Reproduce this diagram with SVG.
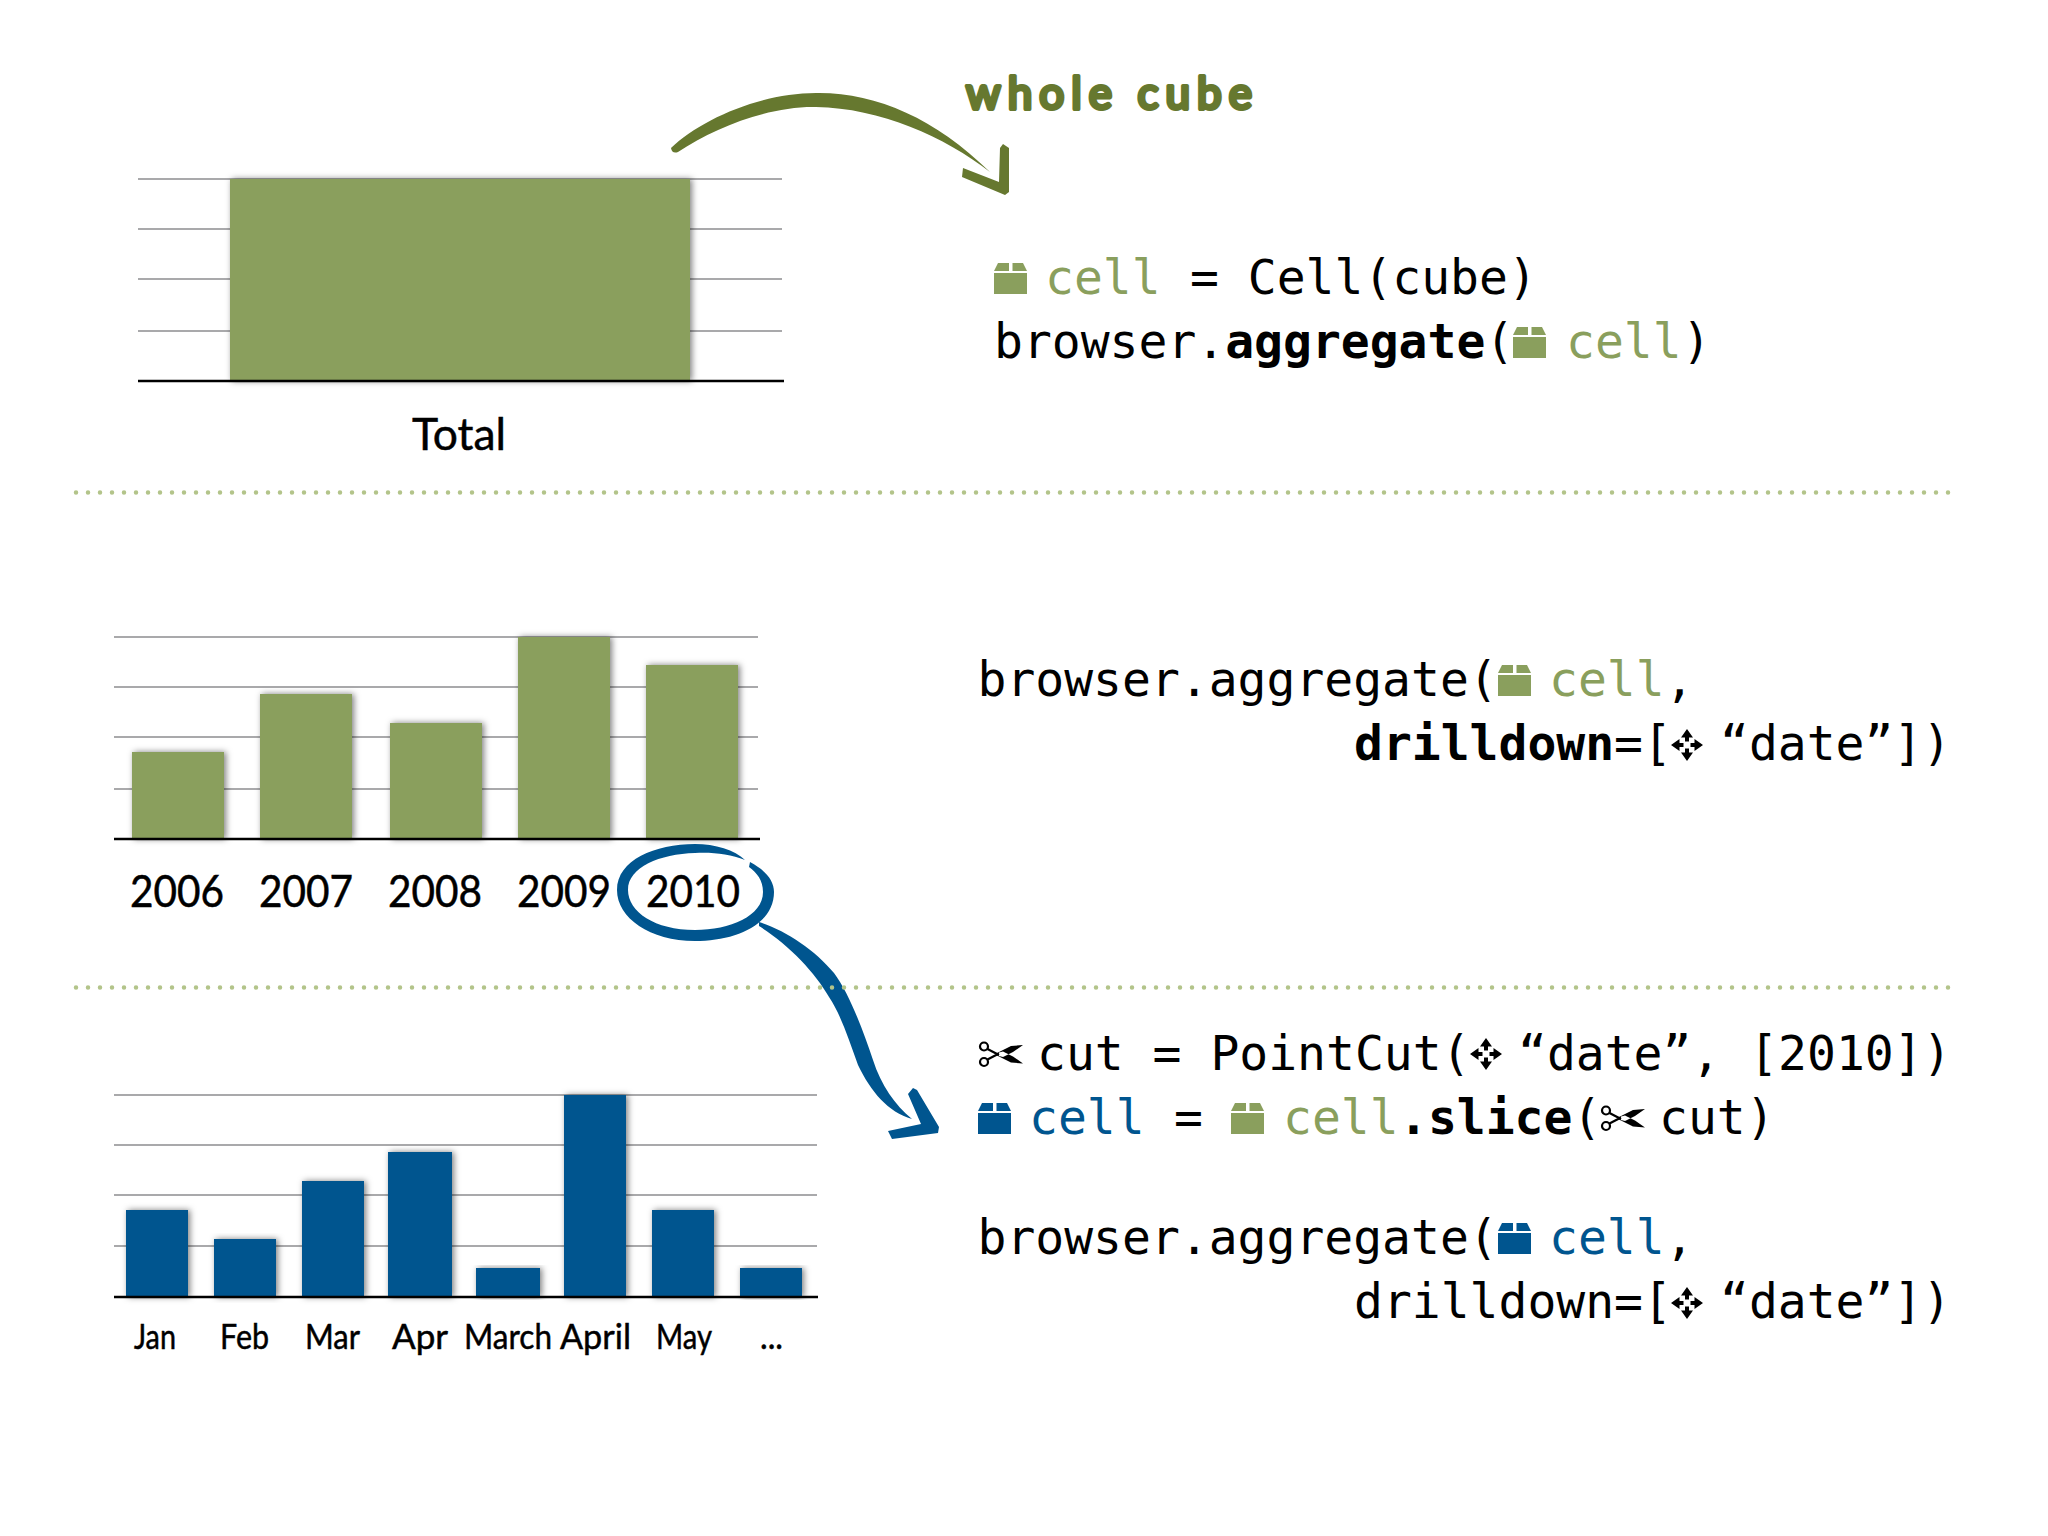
<svg xmlns="http://www.w3.org/2000/svg" width="2048" height="1536" viewBox="0 0 2048 1536">
<style>
.grid{stroke:#a9a9ab;stroke-width:2}
.base{stroke:#000;stroke-width:2.5}
.dots{stroke:#b3c48a;stroke-width:4.500;stroke-linecap:round;stroke-dasharray:0 12;fill:none}
.code{font-family:"DejaVu Sans Mono",monospace;font-size:48px;fill:#000}
.b{font-weight:700}
.g{fill:#8a9f5d}
.bl{fill:#00558f}
.lab{font-family:"Lato",sans-serif;fill:#000;stroke:#000;stroke-width:.5}
.big{font-size:44px}
.sm{font-size:35px}
.gb{fill:#8a9f5d;filter:url(#sh)}
.bb{fill:#00558f;filter:url(#sh)}
</style>
<defs>
<filter id="sh" x="-20%" y="-10%" width="140%" height="120%"><feDropShadow dx="2" dy="0" stdDeviation="3" flood-color="#000" flood-opacity=".5"/></filter>
<symbol id="box" viewBox="0 0 33 31" overflow="visible"><path d="M4 0H15V8H0ZM18.500 0H29L33 8H18.500ZM0 10H33V31H0Z"/></symbol>
<symbol id="move" viewBox="0 0 32 32" overflow="visible"><path d="M16 0L22 8.500H18V12.500H14V8.500H10ZM16 32L22 23.500H18V19.500H14V23.500H10ZM0 16L8.500 10V14H12.500V18H8.500V22ZM32 16L23.500 10V14H19.500V18H23.500V22Z" fill="#000"/></symbol>
<symbol id="cut" viewBox="0 0 46 26" overflow="visible"><g fill="none" stroke="#000" stroke-width="2.200"><circle cx="5" cy="5.500" r="4"/><circle cx="5" cy="21" r="4"/><path d="M8.500 8L20 14M8.500 18.500L20 12.500"/></g><path d="M18 12L32 5L44 4L34 11L24 16L20 15ZM18 14.500L32 21.500L44 22.500L34 15.500L24 10.500L20 11.500Z" fill="#000"/></symbol>
</defs>
<rect width="2048" height="1536" fill="#fff"/>

<g id="chart-total">
<path class="grid" d="M138 179H782M138 229H782M138 279H782M138 331H782"/>
<rect class="gb" x="230" y="179" width="460" height="202"/>
<path class="base" d="M138 381H784"/>
<text class="lab big" x="412" y="450" textLength="94" lengthAdjust="spacingAndGlyphs">Total</text>
</g>

<g id="chart-years">
<path class="grid" d="M114 637H758M114 687H758M114 737H758M114 789H758"/>
<rect class="gb" x="132" y="752" width="92" height="87"/>
<rect class="gb" x="260" y="694" width="92" height="145"/>
<rect class="gb" x="390" y="723" width="92" height="116"/>
<rect class="gb" x="518" y="637" width="92" height="202"/>
<rect class="gb" x="646" y="665" width="92" height="174"/>
<path class="base" d="M114 839H760"/>
<g class="lab big">
<text x="130" y="907" textLength="94" lengthAdjust="spacingAndGlyphs">2006</text>
<text x="259" y="907" textLength="94" lengthAdjust="spacingAndGlyphs">2007</text>
<text x="388" y="907" textLength="94" lengthAdjust="spacingAndGlyphs">2008</text>
<text x="517" y="907" textLength="94" lengthAdjust="spacingAndGlyphs">2009</text>
<text x="646" y="907" textLength="94" lengthAdjust="spacingAndGlyphs">2010</text>
</g>
</g>

<g id="chart-months">
<path class="grid" d="M114 1095H817M114 1145H817M114 1195H817M114 1246H817"/>
<rect class="bb" x="126" y="1210" width="62" height="87"/>
<rect class="bb" x="214" y="1239" width="62" height="58"/>
<rect class="bb" x="302" y="1181" width="62" height="116"/>
<rect class="bb" x="388" y="1152" width="64" height="145"/>
<rect class="bb" x="476" y="1268" width="64" height="29"/>
<rect class="bb" x="564" y="1095" width="62" height="202"/>
<rect class="bb" x="652" y="1210" width="62" height="87"/>
<rect class="bb" x="740" y="1268" width="62" height="29"/>
<path class="base" d="M114 1297H818"/>
<g class="lab sm">
<text x="134" y="1349" textLength="42" lengthAdjust="spacingAndGlyphs">Jan</text>
<text x="220" y="1349" textLength="49" lengthAdjust="spacingAndGlyphs">Feb</text>
<text x="305" y="1349" textLength="55" lengthAdjust="spacingAndGlyphs">Mar</text>
<text x="392" y="1349" textLength="56" lengthAdjust="spacingAndGlyphs">Apr</text>
<text x="464" y="1349" textLength="88" lengthAdjust="spacingAndGlyphs">March</text>
<text x="560" y="1349" textLength="71" lengthAdjust="spacingAndGlyphs">April</text>
<text x="656" y="1349" textLength="56" lengthAdjust="spacingAndGlyphs">May</text>
<text x="760" y="1349" textLength="23" lengthAdjust="spacingAndGlyphs">...</text>
</g>
</g>

<g id="connectors">
<g fill="#66782f">
<path d="M671 148C700 120 760 93 816 93C875 92 935 118 990 172C945 137 880 108 816 107C770 106 715 127 678 152Q672 154 671 148Z"/>
<path d="M1000 148L1003 144L1009 148L1009 192L1005 195L962 177L963 168L999 182Z"/>
</g>
<g fill="#00558f">
<path d="M759 922C785 930 815 950 834 973C849 993 863 1030 873 1060C881 1085 895 1105 912 1119C888 1112 871 1092 858 1065C849 1040 841 1015 829 997C815 972 788 944 759 926Z"/>
<path d="M908 1094L913 1088L917 1090L939 1127L938 1133L892 1139L888 1131L921 1124Z"/>
</g>
</g>
<g id="circle-2010">
<path fill="#00558f" d="M750 862C765 870 774 880 774 892C774 925 735 941 695 941C650 941 617 918 617 890C617 860 655 844 695 844C715 844 735 850 745 860C730 854 712 852 695 853C660 854 628 867 628 890C628 912 655 930 695 930C730 930 763 916 763 892C763 880 757 873 749 867Z"/>
</g>

<path class="dots" d="M76 492.500H1952"/>
<path class="dots" d="M76 987.500H1952"/>

<g id="annotation">
<text x="966" y="109" font-family="Lato,sans-serif" font-size="44" fill="#66782f" stroke="#66782f" stroke-width="4" stroke-linejoin="round" textLength="286" lengthAdjust="spacing">whole cube</text>
</g>

<g id="code-total">
<use href="#box" class="g" x="994" y="263" width="33" height="31"/>
<text class="code g" x="1045" y="294">cell</text>
<text class="code" x="1190" y="294">= Cell(cube)</text>
<text class="code" x="994" y="358">browser.<tspan class="b">aggregate</tspan>(</text>
<use href="#box" class="g" x="1513" y="327" width="33" height="31"/>
<text class="code g" x="1566" y="358">cell</text>
<text class="code" x="1682" y="358">)</text>
</g>

<g id="code-drilldown">
<text class="code" x="977.500" y="696">browser.aggregate(</text>
<use href="#box" class="g" x="1498" y="665" width="33" height="31"/>
<text class="code g" x="1549" y="696">cell</text>
<text class="code" x="1665" y="696">,</text>
<text class="code" x="1354" y="760"><tspan class="b">drilldown</tspan>=[</text>
<use href="#move" x="1671" y="729" width="32" height="32"/>
<text class="code" x="1720" y="760">“date”])</text>
</g>

<g id="code-slice">
<use href="#cut" x="979" y="1041" width="46" height="26"/>
<text class="code" x="1037" y="1070">cut = PointCut(</text>
<use href="#move" x="1470" y="1038" width="32" height="32"/>
<text class="code" x="1518" y="1070">“date”, [2010])</text>
<use href="#box" class="bl" x="978" y="1103" width="33" height="31"/>
<text class="code bl" x="1029" y="1134">cell</text>
<text class="code" x="1174" y="1134">=</text>
<use href="#box" class="g" x="1231" y="1103" width="33" height="31"/>
<text class="code g" x="1283" y="1134">cell</text>
<text class="code" x="1399" y="1134"><tspan class="b">.slice</tspan>(</text>
<use href="#cut" x="1601" y="1105" width="46" height="26"/>
<text class="code" x="1659" y="1134">cut)</text>
<text class="code" x="977.500" y="1254">browser.aggregate(</text>
<use href="#box" class="bl" x="1498" y="1223" width="33" height="31"/>
<text class="code bl" x="1549" y="1254">cell</text>
<text class="code" x="1665" y="1254">,</text>
<text class="code" x="1354" y="1318">drilldown=[</text>
<use href="#move" x="1671" y="1287" width="32" height="32"/>
<text class="code" x="1720" y="1318">“date”])</text>
</g>
</svg>
